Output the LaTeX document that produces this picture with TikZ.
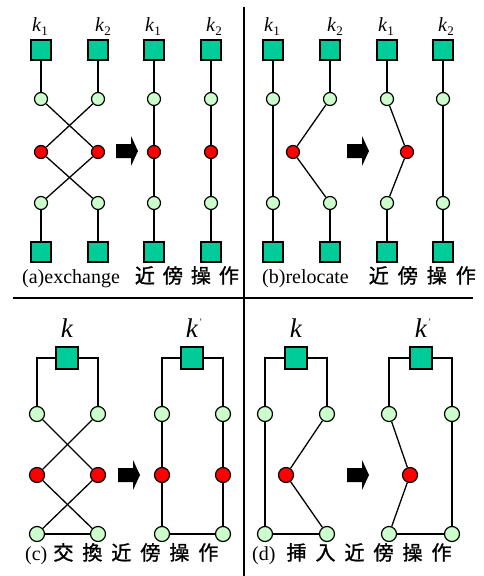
\documentclass[tikz,border=0pt]{standalone}
\usepackage{fontspec}
\setmainfont{Liberation Serif}
\newfontfamily\cjk[FakeBold=1.2]{Noto Sans CJK JP}
\definecolor{sqc}{RGB}{0,204,153}
\definecolor{lgc}{RGB}{204,255,204}
\newcommand\kk[1]{\textit{k}\raisebox{-4pt}{\fontsize{13}{13}\selectfont #1}}
\newcommand\kp{\textit{k}\hspace{1.5pt}\raisebox{12pt}{\fontsize{10}{10}\selectfont ′}}
\newcommand\gp{\hspace{9pt}}
\newcommand\barrow[2]{\fill (#1,#2-7) -- (#1+15,#2-7) -- (#1+15,#2-15) -- (#1+22,#2) -- (#1+15,#2+15) -- (#1+15,#2+7) -- (#1,#2+7) -- cycle;}
\begin{document}
\begin{tikzpicture}[x=1pt,y=-1pt,
  sq/.style={draw, fill=sqc, minimum size=20pt, inner sep=0pt, line width=1.3pt},
  sqb/.style={sq, minimum size=22pt},
  gc/.style={circle, draw, fill=lgc, minimum size=13pt, inner sep=0pt, line width=1.2pt},
  rc/.style={gc, fill=red},
  gcb/.style={gc, minimum size=15pt},
  rcb/.style={rc, minimum size=15pt},
  ln/.style={line width=1.3pt},
  klab/.style={anchor=base, inner sep=0pt, font=\fontsize{20}{20}\selectfont},
  kbig/.style={anchor=base, inner sep=0pt, font=\fontsize{27}{27}\selectfont},
  lab/.style={anchor=base west, inner sep=0pt, font=\fontsize{20}{20}\selectfont}
]
\useasboundingbox (0,0) rectangle (483,576);
% separators
\draw[line width=1.5pt] (244,7) coordinate (vt) -- (244,576) coordinate (vb);
\draw[line width=1.5pt] (13,298) coordinate (hl) -- (473,298) coordinate (hr);

% ---------- panel (a) ----------
\foreach \n/\x in {1/41,2/98,3/154,4/211}{
  \node[sq] (a\n t) at (\x,50) {};
  \node[gc] (a\n u) at (\x,99) {};
  \node[gc] (a\n d) at (\x,203) {};
  \node[sq] (a\n b) at (\x,252) {};
}
\foreach \n/\x in {1/41,2/98,3/154,4/211}{
  \node[rc] (a\n m) at (\x,152) {};
}
\node[klab] (ak1) at (40,31) {\kk{1}};
\node[klab] (ak2) at (103,31) {\kk{2}};
\node[klab] (ak3) at (153,31) {\kk{1}};
\node[klab] (ak4) at (214,31) {\kk{2}};
\foreach \n in {1,2,3,4}{
  \draw[ln] (a\n t) -- (a\n u);
  \draw[ln] (a\n d) -- (a\n b);
}
\draw[ln] (a1u) -- (a2m);
\draw[ln] (a2u) -- (a1m);
\draw[ln] (a1m) -- (a2d);
\draw[ln] (a2m) -- (a1d);
\foreach \n in {3,4}{
  \draw[ln] (a\n u) -- (a\n m) -- (a\n d);
}
\barrow{116}{151}
\node[lab] (la) at (22,283) {(a)exchange\hspace{15pt}{\cjk 近\hspace{8pt}傍\hspace{8pt}操\hspace{8pt}作}};

% ---------- panel (b) ----------
\foreach \n/\x in {1/273,2/330,3/387,4/443}{
  \node[sq] (b\n t) at (\x,50) {};
  \node[gc] (b\n u) at (\x,99) {};
  \node[gc] (b\n d) at (\x,203) {};
  \node[sq] (b\n b) at (\x,252) {};
}
\node[rc] (br1) at (293,152) {};
\node[rc] (br2) at (407,152) {};
\node[klab] (bk1) at (272,31) {\kk{1}};
\node[klab] (bk2) at (335,31) {\kk{2}};
\node[klab] (bk3) at (386,31) {\kk{1}};
\node[klab] (bk4) at (446,31) {\kk{2}};
\foreach \n in {1,2,3,4}{
  \draw[ln] (b\n t) -- (b\n u);
  \draw[ln] (b\n d) -- (b\n b);
}
\draw[ln] (b1u) -- (b1d);
\draw[ln] (b2u) -- (br1) -- (b2d);
\draw[ln] (b3u) -- (br2) -- (b3d);
\draw[ln] (b4u) -- (b4d);
\barrow{347}{151}
\node[lab] (lb) at (262,283) {(b)relocate\hspace{20pt}{\cjk 近\gp 傍\gp 操\gp 作}};

% ---------- panel (c) ----------
\node[sqb] (cs1) at (67,358) {};
\node[sqb] (cs2) at (192,358) {};
\node[kbig] (ck1) at (67,337) {\textit{k}};
\node[kbig] (ck2) at (194,337) {\kp};
\foreach \n/\x in {1/37,2/98,3/162,4/223}{
  \node[gcb] (c\n u) at (\x,414) {};
  \node[rcb] (c\n m) at (\x,475) {};
  \node[gcb] (c\n d) at (\x,534) {};
}
\draw[ln] (cs1.west) -| (c1u);
\draw[ln] (cs1.east) -| (c2u);
\draw[ln] (cs2.west) -| (c3u);
\draw[ln] (cs2.east) -| (c4u);
\draw[ln] (c1u) -- (c2m);
\draw[ln] (c2u) -- (c1m);
\draw[ln] (c1m) -- (c2d);
\draw[ln] (c2m) -- (c1d);
\draw[ln] (c1d) -- (c2d);
\draw[ln] (c3u) -- (c3m) -- (c3d);
\draw[ln] (c4u) -- (c4m) -- (c4d);
\draw[ln] (c3d) -- (c4d);
\barrow{118}{475}
\node[lab] (lc) at (25,560) {(c)\hspace{6pt}{\cjk 交\gp 換\gp 近\gp 傍\gp 操\gp 作}};

% ---------- panel (d) ----------
\node[sqb] (ds1) at (296,358) {};
\node[sqb] (ds2) at (421,358) {};
\node[kbig] (dk1) at (296,337) {\textit{k}};
\node[kbig] (dk2) at (423,337) {\kp};
\foreach \n/\x in {1/265,2/327,3/389,4/452}{
  \node[gcb] (d\n u) at (\x,414) {};
  \node[gcb] (d\n d) at (\x,534) {};
}
\node[rcb] (dr1) at (286,475) {};
\node[rcb] (dr2) at (410,475) {};
\draw[ln] (ds1.west) -| (d1u);
\draw[ln] (ds1.east) -| (d2u);
\draw[ln] (ds2.west) -| (d3u);
\draw[ln] (ds2.east) -| (d4u);
\draw[ln] (d1u) -- (d1d);
\draw[ln] (d2u) -- (dr1) -- (d2d);
\draw[ln] (d1d) -- (d2d);
\draw[ln] (d3u) -- (dr2) -- (d3d);
\draw[ln] (d4u) -- (d4d);
\draw[ln] (d3d) -- (d4d);
\barrow{347}{475}
\node[lab] (ld) at (252,560) {(d)\hspace{11pt}{\cjk 挿\gp 入\gp 近\gp 傍\gp 操\gp 作}};
\end{tikzpicture}
\end{document}
